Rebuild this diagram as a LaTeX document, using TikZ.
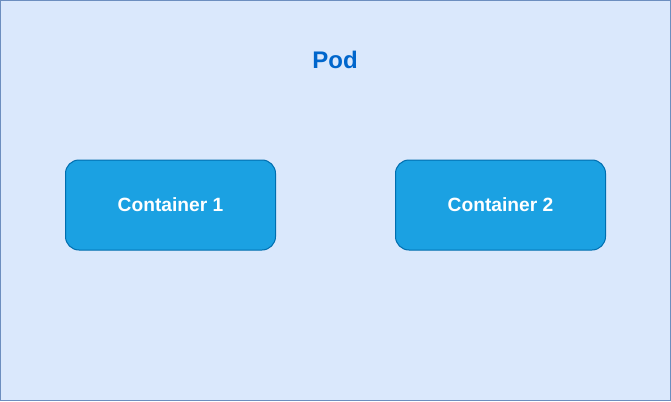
\documentclass[tikz,border=0pt]{standalone}
\usepackage{fontspec}
\setmainfont{Liberation Sans}
\definecolor{podfill}{HTML}{DAE8FC}
\definecolor{podline}{HTML}{6C8EBF}
\definecolor{podtext}{HTML}{0066CC}
\definecolor{cfill}{HTML}{1BA1E2}
\definecolor{cline}{HTML}{006EAF}
\tikzset{
  podbox/.style={draw=podline, fill=podfill, line width=1pt},
  container/.style={draw=cline, fill=cfill, line width=1pt, rounded corners=13.5pt,
    minimum width=210pt, minimum height=90pt, inner sep=0pt,
    text=white, font=\fontsize{19.2pt}{22pt}\selectfont\bfseries},
  podlabel/.style={text=podtext, font=\fontsize{24pt}{27pt}\selectfont\bfseries, inner sep=0pt}
}
\begin{document}
\begin{tikzpicture}[x=1pt,y=-1pt]
\useasboundingbox (0,0) rectangle (671,401);
\draw[podbox] (0.5,0.5) rectangle (670.5,400.5);
\node[podlabel] (pod) at (335,60) {Pod};
\node[container] (c1) at (170.5,205) {Container 1};
\node[container] (c2) at (500.5,205) {Container 2};
\end{tikzpicture}
\end{document}
